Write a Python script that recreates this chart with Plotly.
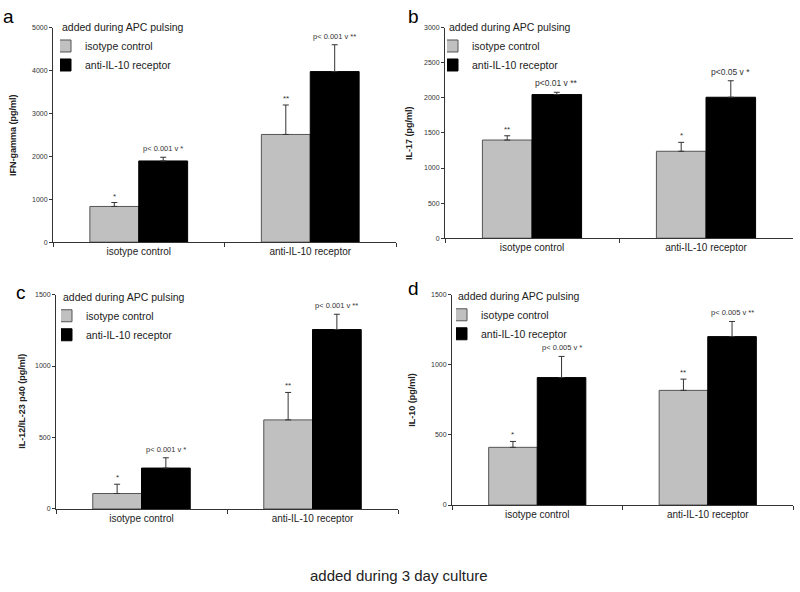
import plotly.graph_objects as go

# ---------------- data ----------------
categories = ["isotype control", "anti-IL-10 receptor"]
series_names = ["isotype control", "anti-IL-10 receptor"]
legend_title = "added during APC pulsing"

ifn_iso = [832, 2511]
ifn_iso_err = [92, 687]
ifn_anti = [1893, 3977]
ifn_anti_err = [87, 626]
ifn_iso_lbl = ["*", "**"]
ifn_anti_lbl = ["p< 0.001 v *", "p< 0.001 v **"]

il17_iso = [1399, 1239]
il17_iso_err = [61, 127]
il17_anti = [2047, 2009]
il17_anti_err = [33, 235]
il17_iso_lbl = ["**", "*"]
il17_anti_lbl = ["p<0.01 v **", "p<0.05 v *"]

il12_iso = [108, 623]
il12_iso_err = [65, 192]
il12_anti = [286, 1255]
il12_anti_err = [72, 107]
il12_iso_lbl = ["*", "**"]
il12_anti_lbl = ["p< 0.001 v *", "p< 0.001 v **"]

il10_iso = [411, 817]
il10_iso_err = [42, 80]
il10_anti = [908, 1200]
il10_anti_err = [151, 108]
il10_iso_lbl = ["*", "**"]
il10_anti_lbl = ["p< 0.005 v *", "p< 0.005 v **"]

panel_letters = ["a", "b", "c", "d"]
y_titles = ["IFN-gamma (pg/ml)", "IL-17 (pg/ml)", "IL-12/IL-23 p40 (pg/ml)", "IL-10 (pg/ml)"]
y_ranges = [[0, 5000], [0, 3000], [0, 1500], [0, 1500]]
y_dticks = [1000, 500, 500, 500]
bottom_title = "added during 3 day culture"

# ---------------- layout geometry (pixels) ----------------
W, H = 800, 592
FONT = "Liberation Sans, Arial, sans-serif"
GRAY = "#c0c0c0"
BARGAP = 0.43

def px_x(v):
    return v / W

def px_y(v):
    return 1 - v / H

panels = [
    dict(iso=ifn_iso, iso_err=ifn_iso_err, anti=ifn_anti, anti_err=ifn_anti_err,
         iso_lbl=ifn_iso_lbl, anti_lbl=ifn_anti_lbl,
         xd=(53, 396), yd=(24, 241), letter_xy=(8, 13), leg=(60, 14), ytx=13, afs=7.5),
    dict(iso=il17_iso, iso_err=il17_iso_err, anti=il17_anti, anti_err=il17_anti_err,
         iso_lbl=il17_iso_lbl, anti_lbl=il17_anti_lbl,
         xd=(445, 793), yd=(24, 237), letter_xy=(413, 13), leg=(447, 14), ytx=409, afs=8.5),
    dict(iso=il12_iso, iso_err=il12_iso_err, anti=il12_anti, anti_err=il12_anti_err,
         iso_lbl=il12_iso_lbl, anti_lbl=il12_anti_lbl,
         xd=(56, 398), yd=(294, 511), letter_xy=(21, 292), leg=(61, 287), ytx=22, afs=7.5),
    dict(iso=il10_iso, iso_err=il10_iso_err, anti=il10_anti, anti_err=il10_anti_err,
         iso_lbl=il10_iso_lbl, anti_lbl=il10_anti_lbl,
         xd=(452, 793), yd=(294, 507), letter_xy=(413, 288), leg=(456, 286), ytx=412, afs=7.5),
]

fig = go.Figure()
annotations = []
half = (1 - BARGAP) / 4.0  # offset of each bar's centre from category centre

for i, p in enumerate(panels):
    n = i + 1
    xa = "x" if n == 1 else f"x{n}"
    ya = "y" if n == 1 else f"y{n}"
    lg = "legend" if n == 1 else f"legend{n}"

    fig.add_trace(go.Bar(
        x=categories, y=p["iso"], name=series_names[0], xaxis=xa, yaxis=ya, legend=lg,
        marker=dict(color=GRAY, line=dict(color="#555555", width=1)),
        error_y=dict(type="data", array=p["iso_err"], symmetric=False,
                     arrayminus=[0] * len(p["iso_err"]), color="#333333", thickness=1, width=3),
    ))
    fig.add_trace(go.Bar(
        x=categories, y=p["anti"], name=series_names[1], xaxis=xa, yaxis=ya, legend=lg,
        marker=dict(color="#000000", line=dict(color="#000000", width=1)),
        error_y=dict(type="data", array=p["anti_err"], symmetric=False,
                     arrayminus=[0] * len(p["anti_err"]), color="#333333", thickness=1, width=3),
    ))

    ax_layout = dict(
        domain=[px_x(p["xd"][0]), px_x(p["xd"][1])],
        anchor=ya, type="category", showline=True, linecolor="#333333", linewidth=1,
        ticks="outside", tickson="boundaries", ticklen=4, tickcolor="#333333",
        tickfont=dict(family=FONT, size=10, color="#222222"), showgrid=False, zeroline=False,
        range=[-0.5, 1.5], fixedrange=True,
    )
    ay_layout = dict(
        domain=[px_y(p["yd"][1]), px_y(p["yd"][0])],
        anchor=xa, range=y_ranges[i], dtick=y_dticks[i], tickformat="d",
        showline=True, linecolor="#333333", linewidth=1, ticks="outside", ticklen=3,
        tickcolor="#333333", tickfont=dict(family=FONT, size=7, color="#333333"),
        showgrid=False, zeroline=False,
    )
    fig.update_layout({("xaxis" if n == 1 else f"xaxis{n}"): ax_layout,
                       ("yaxis" if n == 1 else f"yaxis{n}"): ay_layout})

    fig.update_layout({lg: dict(
        x=px_x(p["leg"][0]), y=px_y(p["leg"][1]), xanchor="left", yanchor="top",
        bgcolor="rgba(0,0,0,0)", borderwidth=0, indentation=-15,
        title=dict(text=legend_title, font=dict(family=FONT, size=10.5, color="#222222")),
        font=dict(family=FONT, size=10.5, color="#222222"), tracegroupgap=0,
    )})

    # y-axis title
    annotations.append(dict(
        text=f"<b>{y_titles[i]}</b>", xref="paper", yref="paper",
        x=px_x(p["ytx"]), y=px_y((p["yd"][0] + p["yd"][1]) / 2), textangle=-90,
        showarrow=False, font=dict(family=FONT, size=9, color="#222222"),
        xanchor="center", yanchor="middle",
    ))
    # panel letter
    annotations.append(dict(
        text=panel_letters[i], xref="paper", yref="paper",
        x=px_x(p["letter_xy"][0]), y=px_y(p["letter_xy"][1]), showarrow=False,
        font=dict(family=FONT, size=19, color="#000000"), xanchor="center", yanchor="middle",
    ))
    # significance labels
    for j in range(len(categories)):
        annotations.append(dict(
            text=p["iso_lbl"][j], xref=xa, yref=ya, x=j - half,
            y=p["iso"][j] + p["iso_err"][j], yanchor="bottom", yshift=0, showarrow=False,
            font=dict(family=FONT, size=8, color="#333333"),
        ))
        annotations.append(dict(
            text=p["anti_lbl"][j], xref=xa, yref=ya, x=j + half,
            y=p["anti"][j] + p["anti_err"][j], yanchor="bottom", yshift=2, showarrow=False,
            font=dict(family=FONT, size=p["afs"], color="#333333"),
        ))

annotations.append(dict(
    text=bottom_title, xref="paper", yref="paper", x=px_x(399), y=px_y(578),
    showarrow=False, font=dict(family=FONT, size=15, color="#222222"),
    xanchor="center", yanchor="middle",
))

fig.update_layout(
    width=W, height=H, margin=dict(l=0, r=0, t=0, b=0),
    paper_bgcolor="white", plot_bgcolor="white",
    barmode="group", bargap=BARGAP, bargroupgap=0,
    showlegend=True, annotations=annotations,
    font=dict(family=FONT),
)

fig.write_html("out.html", config={"displayModeBar": False},
               post_script="document.body.style.margin='0px';")
